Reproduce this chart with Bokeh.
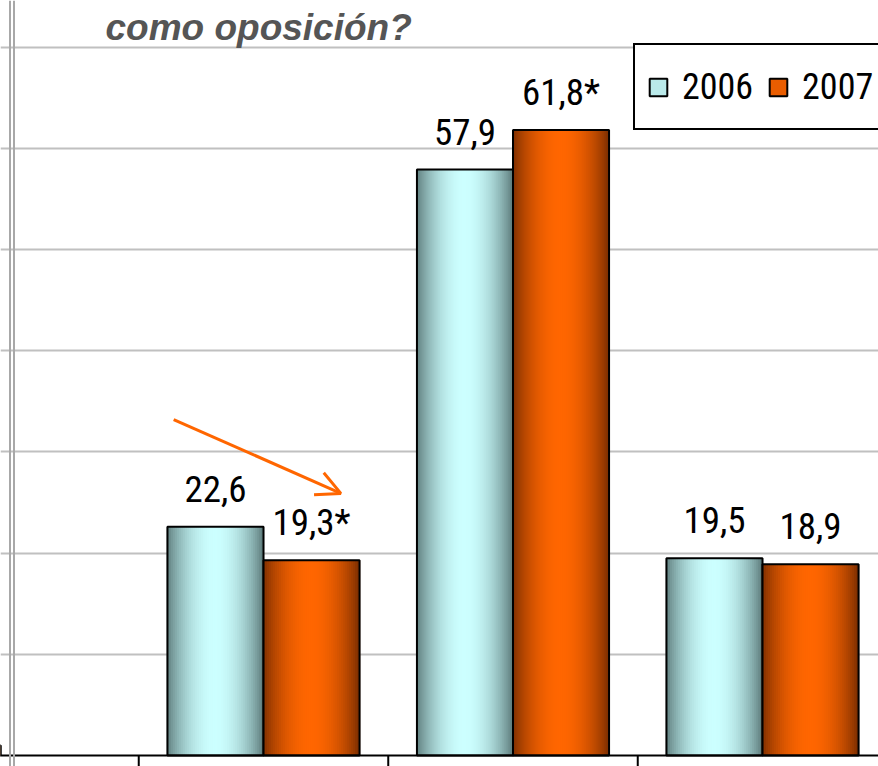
import math
from bokeh.plotting import figure
from bokeh.models import (Range1d, Span, Label, LabelSet, ColumnDataSource, Legend,
                          LegendItem, Arrow, OpenHead, FixedTicker)
from bokeh.core.properties import value
from bokeh.embed import file_html
from bokeh.resources import INLINE

# ---- data ----
categories = ["A", "B", "C"]          # category names are cut off in the reference
series = ["2006", "2007"]
values_2006 = [22.6, 57.9, 19.5]
values_2007 = [19.3, 61.8, 18.9]
labels_2006 = ["22,6", "57,9", "19,5"]
labels_2007 = ["19,3*", "61,8*", "18,9"]
title_text = "como oposición?"
grid_ticks = [10, 20, 30, 40, 50, 60, 70]

# ---- styling constants ----
BAR_W = 0.385
PX_PER_X = 249.5
PX_PER_Y = 10.12
W, H = 878, 766
x_start = 1 - 263 / PX_PER_X
x_end = x_start + W / PX_PER_X
y_start = -11 / PX_PER_Y
y_end = y_start + H / PX_PER_Y
FONT = "Roboto Condensed"

p = figure(width=W, height=H, output_backend="svg", toolbar_location=None,
           x_range=Range1d(x_start, x_end), y_range=Range1d(y_start, y_end),
           x_axis_location=None, y_axis_location=None, min_border=0,
           outline_line_color=None, background_fill_color="white")
p.xgrid.visible = False
p.ygrid.ticker = FixedTicker(ticks=grid_ticks)
p.ygrid.grid_line_color = "#c0c0c0"
p.ygrid.grid_line_width = 2

positions = [i + 1 for i in range(len(categories))]

def grad(t, dark, light):
    f = math.sin(math.pi * t) ** 0.8
    return "#%02x%02x%02x" % tuple(int(round(d + (l - d) * f)) for d, l in zip(dark, light))

schemes = {
    "2006": ((0x5a, 0x78, 0x78), (0xcc, 0xff, 0xff)),
    "2007": ((0x78, 0x2c, 0x00), (0xff, 0x66, 0x00)),
}
N = 48
proxies = {}
for s, vals, labs, off in (("2006", values_2006, labels_2006, -BAR_W / 2),
                           ("2007", values_2007, labels_2007, BAR_W / 2)):
    dark, light = schemes[s]
    xs, tops, cols = [], [], []
    for pos, v in zip(positions, vals):
        c = pos + off
        for k in range(N):
            t = (k + 0.5) / N
            xs.append(c + (t - 0.5) * BAR_W)
            tops.append(v)
            cols.append(grad(t, dark, light))
    p.vbar(x=xs, top=tops, bottom=0, width=BAR_W / N * 1.6, fill_color=cols,
           line_color=None)
    centers = [pos + off for pos in positions]
    p.vbar(x=centers, top=vals, bottom=0, width=BAR_W, fill_color=None,
           line_color="black", line_width=2)
    src = ColumnDataSource(dict(x=centers, y=vals, t=labs))
    p.add_layout(LabelSet(x="x", y="y", text="t", source=src, y_offset=25,
                          text_align="center", text_baseline="alphabetic",
                          text_font=value(FONT), text_font_size=value("37px"),
                          text_color="black"))
    # legend proxy, kept outside the visible range
    proxies[s] = p.vbar(x=[x_start - 5], top=[1], width=0.1,
                        fill_color=grad(0.3, dark, light), line_color="black",
                        line_width=2)

# baseline and category separators
p.add_layout(Span(location=0, dimension="width", line_color="black", line_width=2))
bounds = [pos + 0.5 for pos in positions[:-1]] + [positions[0] - 0.5]
p.segment(x0=bounds, x1=bounds, y0=[0] * len(bounds), y1=[y_start] * len(bounds),
          line_color="black", line_width=2)

# left double axis line
for px in (9.5, 13.5):
    p.add_layout(Span(location=x_start + px / PX_PER_X, dimension="height",
                      line_color="#a8a8a8", line_width=2))

# arrow annotation
p.add_layout(Arrow(end=OpenHead(line_color="#ff6600", line_width=3, size=24),
                   x_start=0.64, y_start=33.2, x_end=1.31, y_end=25.9,
                   line_color="#ff6600", line_width=3))

# title (partially cut in reference)
p.add_layout(Label(x=105, y=H - 27, x_units="screen", y_units="screen", text=title_text,
                   text_font="Liberation Sans", text_font_style="bold italic",
                   text_font_size="37px", text_color="#555555",
                   text_baseline="alphabetic"))

legend = Legend(items=[LegendItem(label=s, renderers=[proxies[s]]) for s in series],
                orientation="horizontal", location=(633, 636),
                label_text_font=FONT, label_text_font_size="36px",
                label_text_color="black",
                glyph_width=22, glyph_height=22, label_standoff=13, spacing=14,
                padding=12, label_height=59, margin=0,
                border_line_color="black", border_line_width=2, border_line_alpha=1,
                background_fill_color="white", background_fill_alpha=1)
p.add_layout(legend)

open("out.html", "w").write(file_html(p, INLINE))
